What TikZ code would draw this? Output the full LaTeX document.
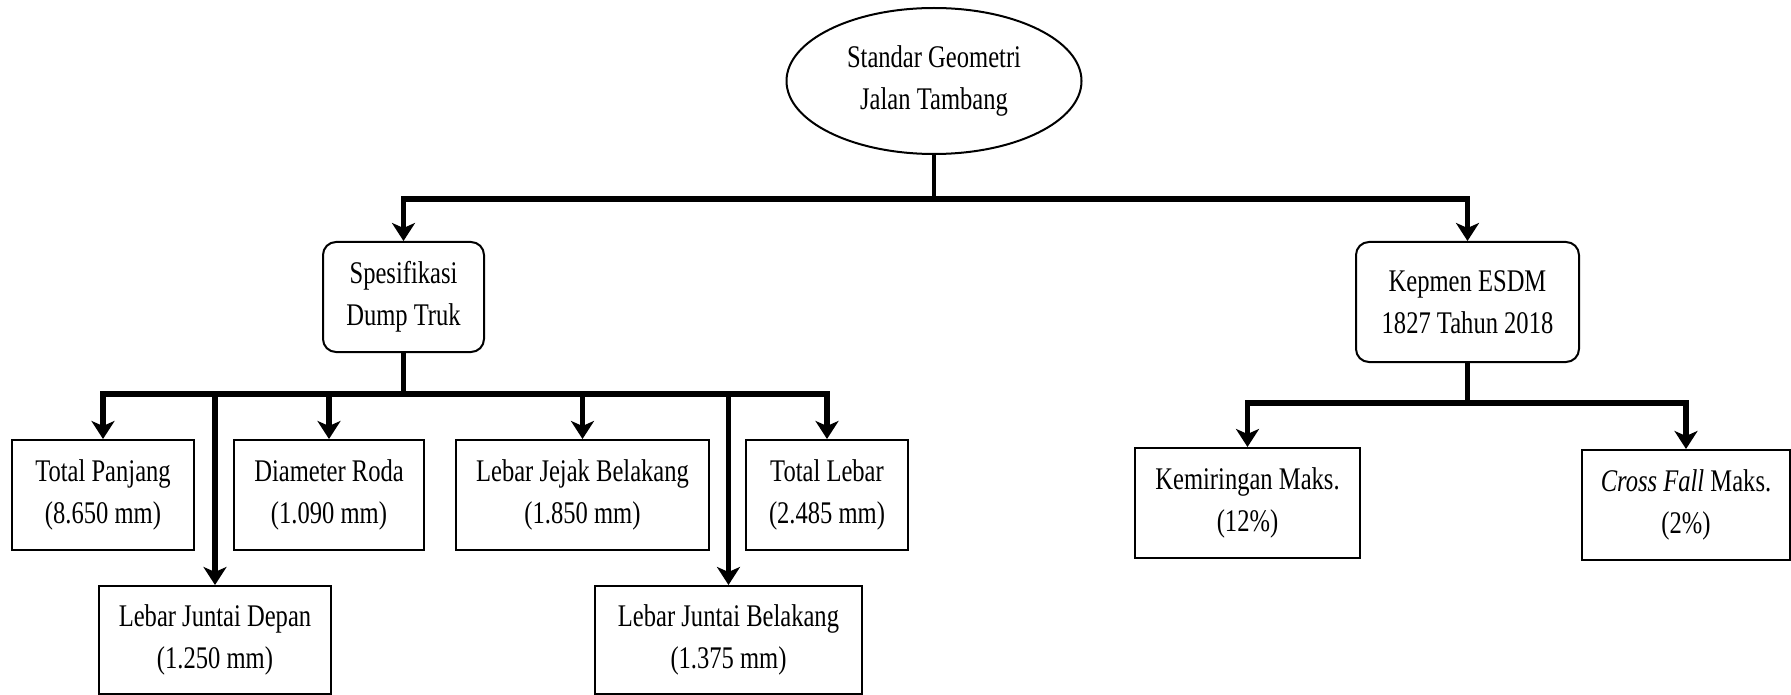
\documentclass[tikz,border=0pt]{standalone}
\usepackage{fontspec}
\setmainfont{Liberation Serif}[FakeStretch=0.78]
\usetikzlibrary{shapes.geometric,arrows.meta}
\begin{document}
\begin{tikzpicture}[x=1pt,y=-1pt,
  every node/.style={font=\fontsize{31.5}{42}\selectfont, align=center, inner sep=0pt},
  leaf/.style={draw, line width=2pt, rectangle, minimum height=110pt},
  mid/.style={draw, line width=2pt, rectangle, rounded corners=13pt},
  branch/.style={line width=5.5pt, -{Stealth[length=18pt,width=23pt,inset=5pt]}},
  trunk/.style={line width=4.5pt}]
\fill[white] (0,0) rectangle (1791,695);
\useasboundingbox (0,0) rectangle (1791,695);

% root and second level
\node[draw, ellipse, line width=2pt, minimum width=295pt, minimum height=146pt] (root) at (934,81) {Standar Geometri\\Jalan Tambang};
\node[mid, minimum width=161pt, minimum height=110pt] (spec) at (403.5,297) {Spesifikasi\\Dump Truk};
\node[mid, minimum width=223pt, minimum height=120pt] (kep) at (1467.5,302) {Kepmen ESDM\\1827 Tahun 2018};

% truck specification leaves
\node[leaf, minimum width=182pt] (tp) at (103,495) {Total Panjang\\(8.650 mm)};
\node[leaf, minimum width=190pt] (dr) at (329,495) {Diameter Roda\\(1.090 mm)};
\node[leaf, minimum width=253pt] (ljb) at (582.5,495) {Lebar Jejak Belakang\\(1.850 mm)};
\node[leaf, minimum width=162pt] (tl) at (827,495) {Total Lebar\\(2.485 mm)};
\node[leaf, minimum width=232pt, minimum height=108pt] (ljd) at (215,640) {Lebar Juntai Depan\\(1.250 mm)};
\node[leaf, minimum width=267pt, minimum height=108pt] (ljub) at (728.5,640) {Lebar Juntai Belakang\\(1.375 mm)};

% regulation leaves
\node[leaf, minimum width=225pt] (km) at (1247.5,503) {Kemiringan Maks.\\(12\%)};
\node[leaf, minimum width=208pt] (cf) at (1686,505) {\textit{Cross Fall} Maks.\\(2\%)};

% junctions
\coordinate (j0) at (934,199);
\coordinate (j1) at (403.5,394);
\coordinate (j2) at (1467.5,403);

% connectors
\draw[trunk] (root.south) -- (j0);
\draw[branch] (j0) -| (spec.north);
\draw[branch] (j0) -| (kep.north);

\draw[trunk] (spec.south) -- (j1);
\draw[branch] (j1) -| (tp.north);
\draw[branch] (j1) -| (ljd.north);
\draw[branch] (j1) -| (dr.north);
\draw[branch] (j1) -| (ljb.north);
\draw[branch] (j1) -| (ljub.north);
\draw[branch] (j1) -| (tl.north);

\draw[trunk] (kep.south) -- (j2);
\draw[branch] (j2) -| (km.north);
\draw[branch] (j2) -| (cf.north);
\end{tikzpicture}
\end{document}
